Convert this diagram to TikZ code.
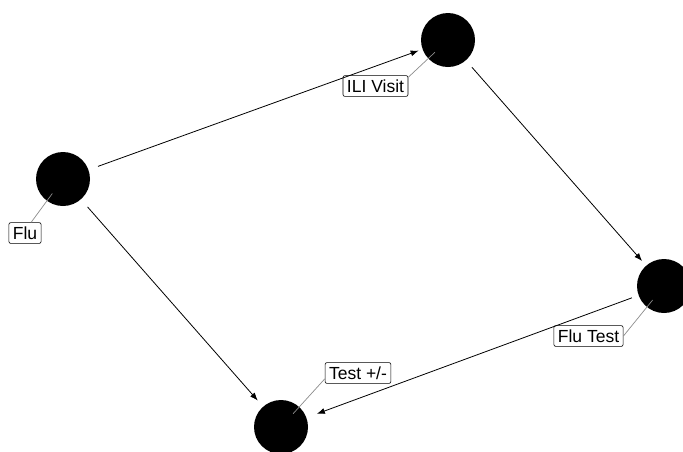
\documentclass[tikz,border=0pt]{standalone}
\usepackage{fontspec}
\setmainfont{Liberation Sans}
\usetikzlibrary{arrows.meta}
\begin{document}
\begin{tikzpicture}[x=1pt,y=-1pt,
  vertex/.style={circle,fill=black,draw=none,minimum size=54pt,inner sep=0pt},
  tag/.style={draw=black,fill=white,rounded corners=2pt,inner xsep=4pt,inner ysep=4pt,
    font=\fontsize{17.5}{20}\selectfont,line width=0.6pt},
  edge/.style={draw=black,line width=0.8pt,-{Latex[length=8pt,width=6pt]}},
  leader/.style={draw=black!45,line width=0.7pt,shorten <=18pt}]
  \useasboundingbox (0,0) rectangle (683,451);
  \clip (0,0) rectangle (683,451);

  % vertices
  \node[vertex] (flu)  at (63,179)  {};
  \node[vertex] (ili)  at (448,40)  {};
  \node[vertex] (ftst) at (664,286) {};
  \node[vertex] (tpm)  at (281,427) {};

  % labels with leader lines
  \node[tag] (flulab)  at (25,233)    {Flu};
  \node[tag] (ililab)  at (375.5,86)  {ILI Visit};
  \node[tag] (ftstlab) at (588.5,336) {Flu Test};
  \node[tag] (tpmlab)  at (358,373)   {Test +/-};

  \draw[leader] (flu.center)  -- (flulab.60);
  \draw[leader] (ili.center)  -- (ililab.15);
  \draw[leader] (ftst.center) -- (ftstlab.east);
  \draw[leader] (tpm.center)  -- (tpmlab.-170);

  % directed edges
  \draw[edge,shorten <=10pt,shorten >=4pt]  (flu)  -- (ili);
  \draw[edge,shorten <=10pt,shorten >=8pt]  (flu)  -- (tpm);
  \draw[edge,shorten <=9pt,shorten >=6pt]   (ili)  -- (ftst);
  \draw[edge,shorten <=7pt,shorten >=11pt]  (ftst) -- (tpm);
\end{tikzpicture}
\end{document}
